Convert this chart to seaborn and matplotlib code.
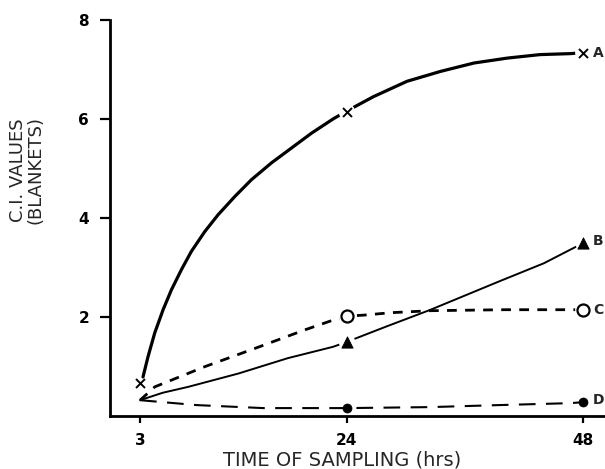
import numpy as np
import pandas as pd
import matplotlib
matplotlib.use("Agg")
import matplotlib.pyplot as plt
import seaborn as sns

# ---- measured points (marker positions) ----
hours = [3, 24, 48]
series_names = ["A", "B", "C", "D"]
A_vals = [0.66, 6.14, 7.34]
B_vals = [0.31, 1.49, 3.49]
C_vals = [0.31, 2.01, 2.14]
D_vals = [0.31, 0.15, 0.27]

# ---- drawn curves ----
A_curve_x = [3.30, 3.81, 4.49, 5.34, 6.18, 7.20, 8.21, 9.57, 10.92, 12.62, 14.31, 16.34,
             18.37, 20.40, 22.61, 24.0, 26.7, 30.1, 33.5, 36.9, 40.3, 43.6, 46.7, 48.0]
A_curve_y = [0.78, 1.19, 1.67, 2.14, 2.54, 2.95, 3.32, 3.72, 4.06, 4.43, 4.77, 5.11,
             5.41, 5.71, 6.00, 6.16, 6.45, 6.76, 6.96, 7.13, 7.23, 7.30, 7.32, 7.34]
B_curve_x = [3.0, 5.3, 7.9, 13.0, 18.0, 22.6, 24.0, 28.0, 32.5, 39.3, 44.0, 48.0]
B_curve_y = [0.31, 0.46, 0.58, 0.85, 1.16, 1.39, 1.49, 1.80, 2.14, 2.70, 3.08, 3.49]
C_curve_x = [3.0, 4.5, 9.6, 14.7, 19.7, 22.6, 24.0, 25.7, 28.5, 32.5, 40.0, 48.0]
C_curve_y = [0.31, 0.58, 0.99, 1.36, 1.73, 1.93, 2.01, 2.03, 2.08, 2.12, 2.14, 2.14]
D_curve_x = [3.0, 8.8, 15.5, 24.0, 32.5, 39.3, 46.7, 48.0]
D_curve_y = [0.31, 0.21, 0.15, 0.15, 0.17, 0.21, 0.25, 0.27]

x_ticks = [3, 24, 48]
y_ticks = [2, 4, 6, 8]
x_label = "TIME OF SAMPLING (hrs)"
y_label = "C.I. VALUES\n(BLANKETS)"

sns.set_style("ticks")
plt.rcParams["font.family"] = ["DejaVu Sans"]

fig = plt.figure(figsize=(6.05, 4.69), dpi=100)
ax = fig.add_axes([110 / 605, 53 / 469, 495 / 605, 396 / 469])

curves = {
    "A": (A_curve_x, A_curve_y, dict(lw=2.3, ls="-")),
    "B": (B_curve_x, B_curve_y, dict(lw=1.4, ls="-")),
    "C": (C_curve_x, C_curve_y, dict(lw=2.0, ls=(0, (3.5, 3.0)))),
    "D": (D_curve_x, D_curve_y, dict(lw=1.5, ls=(0, (8, 5)))),
}
for name, (cx, cy, st) in curves.items():
    df = pd.DataFrame({"x": cx, "y": cy})
    sns.lineplot(data=df, x="x", y="y", ax=ax, color="black", sort=False,
                 linewidth=st["lw"], linestyle=st["ls"], zorder=2)

# white halos to break lines at markers
halo = pd.DataFrame({
    "x": [24, 48, 24, 48, 24, 48],
    "y": [A_vals[1], A_vals[2], B_vals[1], B_vals[2], C_vals[1], C_vals[2]],
})
sns.scatterplot(data=halo, x="x", y="y", ax=ax, marker="o", s=140,
                color="white", edgecolor="none", zorder=3)

# markers
dfA = pd.DataFrame({"x": hours, "y": A_vals})
sns.scatterplot(data=dfA, x="x", y="y", ax=ax, marker="x", s=42,
                color="black", linewidth=1.4, zorder=4)
dfB = pd.DataFrame({"x": hours[1:], "y": B_vals[1:]})
sns.scatterplot(data=dfB, x="x", y="y", ax=ax, marker="^", s=65,
                color="black", edgecolor="black", zorder=4)
dfC = pd.DataFrame({"x": hours[1:], "y": C_vals[1:]})
sns.scatterplot(data=dfC, x="x", y="y", ax=ax, marker="o", s=75,
                facecolor="white", edgecolor="black", linewidth=1.6, zorder=4)
dfD = pd.DataFrame({"x": hours[1:], "y": D_vals[1:]})
sns.scatterplot(data=dfD, x="x", y="y", ax=ax, marker="o", s=42,
                color="black", edgecolor="black", zorder=4)

# series labels at right
label_y = [A_vals[2], B_vals[2] + 0.04, C_vals[2], D_vals[2] + 0.04]
for name, yv in zip(series_names, label_y):
    ax.text(49.0, yv, name, ha="left", va="center", fontsize=10,
            fontweight="bold", clip_on=False)

ax.set_xlim(-0.05, 50.2)
ax.set_ylim(-0.01, 8.0)
ax.set_xticks(x_ticks)
ax.set_xticklabels([str(v) for v in x_ticks])
ax.set_yticks(y_ticks)
ax.set_yticklabels([str(v) for v in y_ticks])
ax.set_xlabel("")
ax.set_ylabel("")
for lab in ax.get_xticklabels() + ax.get_yticklabels():
    lab.set_fontweight("bold")
    lab.set_fontsize(11)
ax.tick_params(axis="y", direction="out", length=7, width=1.6, pad=8, colors="black")
ax.tick_params(axis="x", direction="out", length=5, width=1.6, pad=7, colors="black")
sns.despine(ax=ax)
for sp in ["left", "bottom"]:
    ax.spines[sp].set_linewidth(2.0)
    ax.spines[sp].set_color("black")

fig.text(342 / 605, 1 - 460 / 469, x_label, ha="center", va="center", fontsize=14)
fig.text(27 / 605, 1 - 170 / 469, y_label, ha="center", va="center", fontsize=13,
         rotation=90, linespacing=1.0)

fig.savefig("out.png", dpi=100)
